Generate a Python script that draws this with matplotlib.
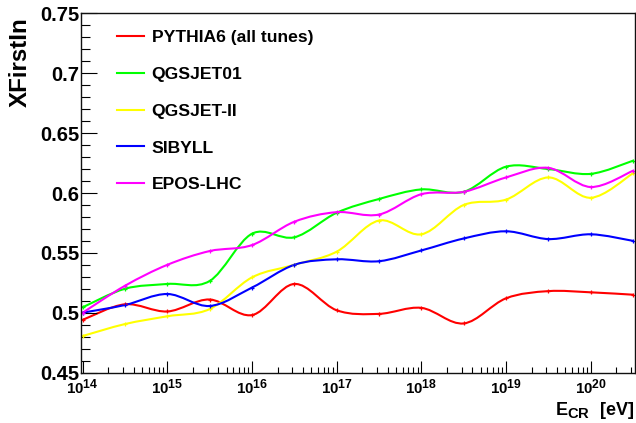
import numpy as np
import matplotlib
matplotlib.use('Agg')
import matplotlib.pyplot as plt
from matplotlib.path import Path
from matplotlib.patches import PathPatch
from matplotlib.lines import Line2D
from matplotlib.ticker import LogLocator, NullFormatter, MultipleLocator, FuncFormatter, FixedLocator

try:
    import matplotlib._mathtext as _mt
    _mt.SHRINK_FACTOR = 0.82
except Exception:
    pass

plt.rcParams['font.family'] = ['Liberation Sans', 'DejaVu Sans']
plt.rcParams['font.weight'] = 'bold'
plt.rcParams['mathtext.fontset'] = 'custom'
plt.rcParams['mathtext.bf'] = 'Liberation Sans:bold'
plt.rcParams['mathtext.rm'] = 'Liberation Sans:bold'
plt.rcParams['mathtext.it'] = 'Liberation Sans:bold'

# ---- data ----
energy_eV = [1e14, 3.162e14, 1e15, 3.162e15, 1e16, 3.162e16, 1e17, 3.162e17,
             1e18, 3.162e18, 1e19, 3.162e19, 1e20, 3.162e20]
pythia6 = [0.494, 0.507, 0.501, 0.511, 0.498, 0.524, 0.502, 0.499,
           0.504, 0.491, 0.512, 0.518, 0.517, 0.515]
qgsjet01 = [0.5045, 0.520, 0.524, 0.5265, 0.566, 0.563, 0.5835, 0.595,
            0.603, 0.601, 0.622, 0.620, 0.616, 0.627]
qgsjetII = [0.4805, 0.4905, 0.497, 0.503, 0.5295, 0.540, 0.551, 0.577,
            0.5655, 0.590, 0.5945, 0.613, 0.596, 0.6165]
sibyll = [0.500, 0.5064, 0.5156, 0.5056, 0.521, 0.540, 0.5446, 0.543,
          0.552, 0.562, 0.568, 0.5615, 0.5655, 0.560]
epos_lhc = [0.500, 0.5225, 0.540, 0.5515, 0.5565, 0.576, 0.584, 0.582,
            0.599, 0.601, 0.613, 0.621, 0.605, 0.6186]

series_names = ['PYTHIA6 (all tunes)', 'QGSJET01', 'QGSJET-II', 'SIBYLL', 'EPOS-LHC']
series_values = [pythia6, qgsjet01, qgsjetII, sibyll, epos_lhc]
series_colors = ['#ff0000', '#00ff00', '#ffff00', '#0000ff', '#ff00ff']

x_major_ticks = [1e14, 1e15, 1e16, 1e17, 1e18, 1e19, 1e20]
y_ticks = [0.45, 0.5, 0.55, 0.6, 0.65, 0.7, 0.75]
y_title = 'XFirstIn'
x_title = r'$\mathbf{E_{CR}}$  [eV]'


def smooth_path(xs, ys):
    """Smooth (Catmull-Rom as cubic Bezier) path through the data points in log-x space."""
    P = np.column_stack([np.log10(xs), np.asarray(ys, dtype=float)])
    n = len(P)
    verts = [P[0]]
    codes = [Path.MOVETO]
    for i in range(n - 1):
        p0 = P[max(i - 1, 0)]
        p1 = P[i]
        p2 = P[i + 1]
        p3 = P[min(i + 2, n - 1)]
        c1 = p1 + (p2 - p0) / 6.0
        c2 = p2 - (p3 - p1) / 6.0
        verts += [c1, c2, p2]
        codes += [Path.CURVE4] * 3
    verts = np.array(verts)
    verts[:, 0] = 10 ** verts[:, 0]
    return Path(verts, codes)


W, H = 636, 423
fig = plt.figure(figsize=(W / 100, H / 100), dpi=100)
left, right, top, bottom = 81, 635, 13.5, 372.5
ax = fig.add_axes([left / W, 1 - bottom / H, (right - left) / W, (bottom - top) / H])

ax.set_xscale('log')
ax.set_xlim(10 ** 13.98, 10 ** 20.523)
ax.set_ylim(0.45, 0.75)

handles = []
for name, vals, col in zip(series_names, series_values, series_colors):
    patch = PathPatch(smooth_path(energy_eV, vals), facecolor='none', edgecolor=col,
                      lw=1.5, capstyle='round', joinstyle='round')
    ax.add_patch(patch)
    ax.plot(energy_eV, vals, ls='none', marker='+', ms=3, mew=0.9, color=col)
    handles.append(Line2D([], [], color=col, lw=1.5))

# axes styling
for s in ax.spines.values():
    s.set_linewidth(1.0)
    s.set_color('#111111')

ax.xaxis.set_major_locator(FixedLocator(x_major_ticks))
ax.xaxis.set_minor_locator(LogLocator(base=10, subs=np.arange(2, 10), numticks=40))
ax.xaxis.set_minor_formatter(NullFormatter())
ax.xaxis.set_major_formatter(FuncFormatter(lambda v, p: r'$\mathbf{10^{%d}}$' % int(round(np.log10(v)))))

ax.yaxis.set_major_locator(FixedLocator(y_ticks))
ax.yaxis.set_minor_locator(MultipleLocator(0.01))
ax.yaxis.set_major_formatter(FuncFormatter(lambda v, p: '%g' % round(v, 3)))

ax.tick_params(axis='x', which='major', direction='in', length=8.5, width=0.8,
               top=False, labelsize=10.8, pad=4)
ax.tick_params(axis='x', which='minor', direction='in', length=4.2, width=0.8, top=False)
ax.tick_params(axis='y', which='major', direction='in', length=11.5, width=0.8,
               right=False, labelsize=14.5, pad=1.2)
ax.tick_params(axis='y', which='minor', direction='in', length=6.5, width=0.8, right=False)
for lab in ax.get_yticklabels() + ax.get_xticklabels():
    lab.set_fontweight('bold')

leg = ax.legend(handles, series_names, loc='upper left',
                bbox_to_anchor=(0.065, 0.954), frameon=False,
                prop={'family': ['Liberation Sans', 'DejaVu Sans'], 'weight': 'bold', 'size': 12.6},
                handlelength=1.54, handletextpad=0.44, labelspacing=1.23,
                borderpad=0, borderaxespad=0)

fig.text(20 / W, 1 - 17 / H, y_title, rotation=90, ha='center', va='top',
         fontsize=17.4, fontweight='bold')
fig.text(634 / W, 1 - 415 / H, x_title, ha='right', va='baseline',
         fontsize=13, fontweight='bold')

fig.savefig('out.png', dpi=100)
